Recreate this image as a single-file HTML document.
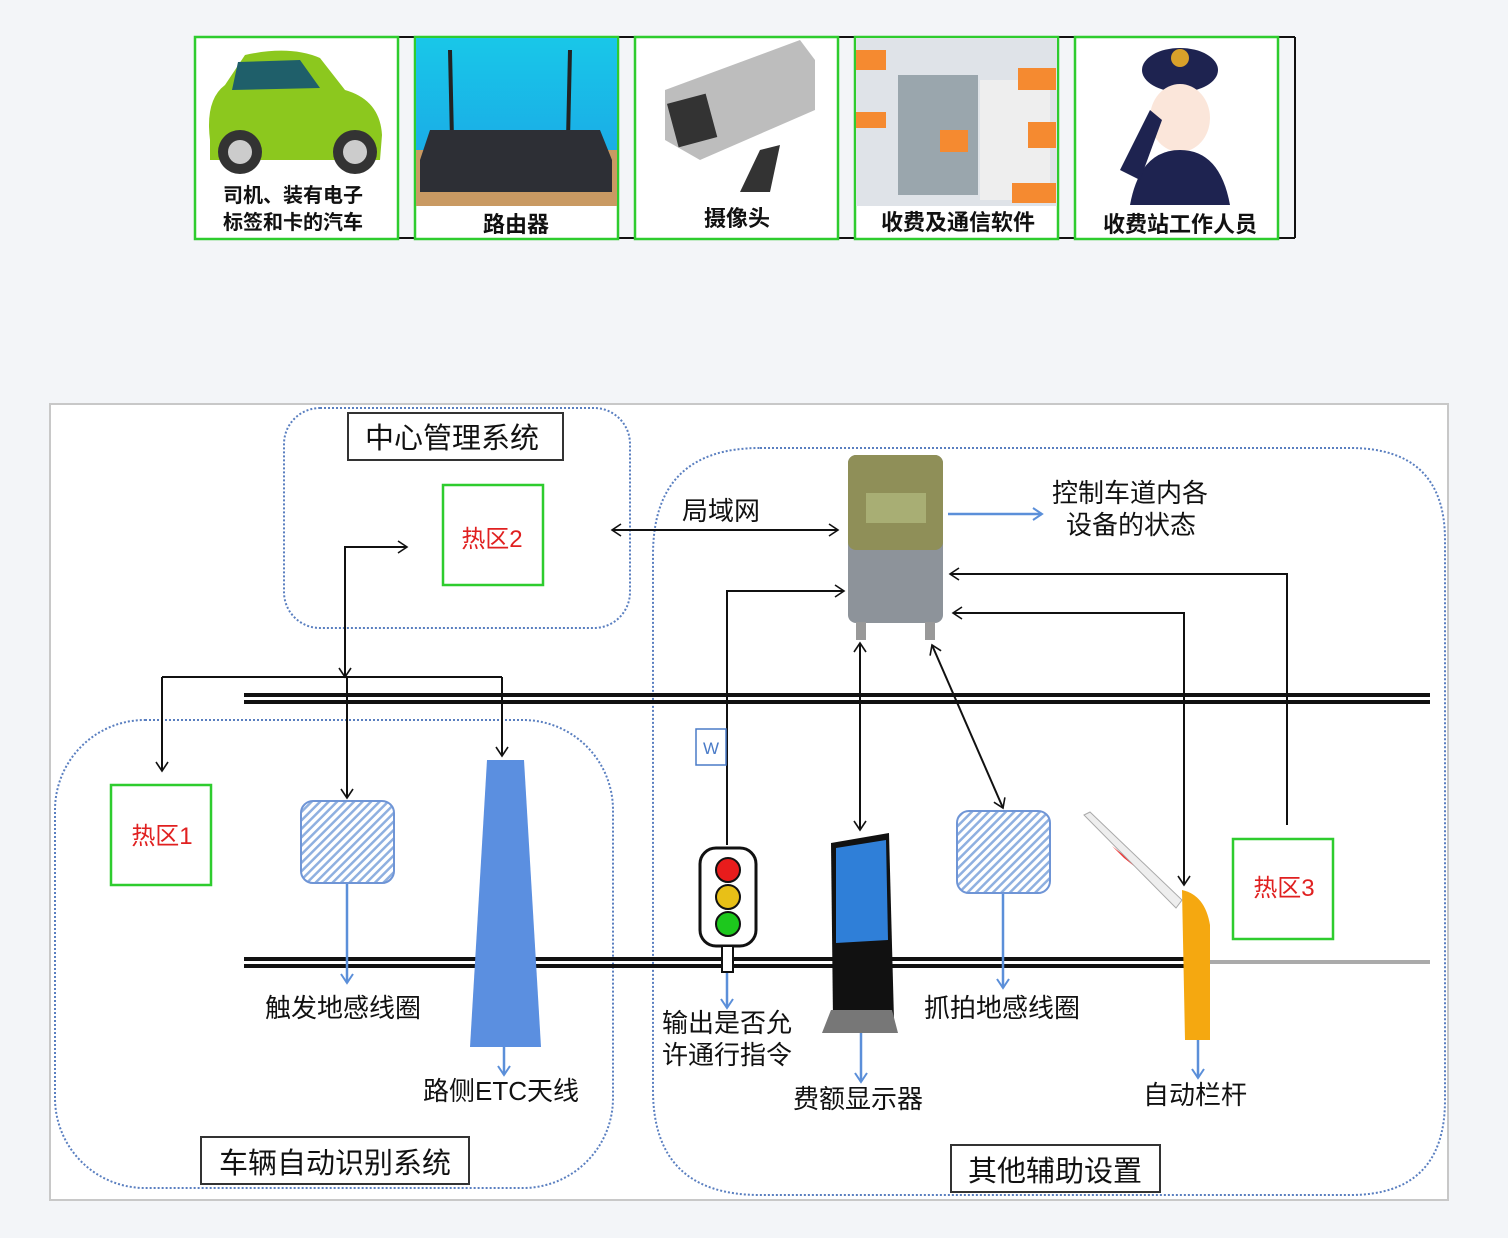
<!DOCTYPE html>
<html><head><meta charset="utf-8"><style>
html,body{margin:0;padding:0;background:#f3f5f8;}
svg{display:block;font-family:"Liberation Sans","Noto Sans CJK SC",sans-serif;}
</style></head><body>
<svg width="1508" height="1238" viewBox="0 0 1508 1238" xmlns="http://www.w3.org/2000/svg">
<defs>
<marker id="a" markerWidth="14" markerHeight="14" refX="11" refY="7" orient="auto-start-reverse" markerUnits="userSpaceOnUse"><path d="M2,1 L11,7 L2,13" fill="none" stroke="#111" stroke-width="1.6"/></marker>
<marker id="b" markerWidth="14" markerHeight="14" refX="11" refY="7" orient="auto" markerUnits="userSpaceOnUse"><path d="M2,1 L11,7 L2,13" fill="none" stroke="#5b8fd9" stroke-width="2"/></marker>
<pattern id="h" width="6" height="6" patternUnits="userSpaceOnUse" patternTransform="rotate(45)"><rect width="6" height="6" fill="#fff"/><rect width="2.5" height="6" fill="#8fb0e0"/></pattern>
<linearGradient id="rb" x1="0" y1="0" x2="0" y2="1"><stop offset="0" stop-color="#19c7e8"/><stop offset="1" stop-color="#1aa0e6"/></linearGradient>
</defs>

<line x1="194" y1="37" x2="1295" y2="37" stroke="#111" stroke-width="2"/>
<line x1="194" y1="238" x2="1295" y2="238" stroke="#111" stroke-width="2"/>
<line x1="1295" y1="37" x2="1295" y2="238" stroke="#111" stroke-width="2"/>
<g stroke="#2ecc2e" stroke-width="2.5" fill="#fff">
<rect x="195" y="37" width="203" height="202"/><rect x="415" y="37" width="203" height="202"/>
<rect x="635" y="37" width="203" height="202"/><rect x="855" y="37" width="203" height="202"/>
<rect x="1075" y="37" width="203" height="202"/>
</g>
<path d="M210,140 Q205,100 225,85 L245,55 Q290,45 320,58 L345,90 Q380,100 382,135 L380,160 L210,160Z" fill="#8cc81e"/>
<path d="M238,62 L300,60 L320,88 L232,90Z" fill="#1f5f6a"/>
<circle cx="240" cy="152" r="22" fill="#333"/><circle cx="240" cy="152" r="12" fill="#ccc"/>
<circle cx="355" cy="152" r="22" fill="#333"/><circle cx="355" cy="152" r="12" fill="#ccc"/>
<g font-weight="bold">
<text x="293" y="202" font-size="20" text-anchor="middle" fill="#111">司机、装有电子</text>
<text x="293" y="229" font-size="20" text-anchor="middle" fill="#111">标签和卡的汽车</text>
</g>
<rect x="416" y="38" width="201" height="168" fill="url(#rb)"/>
<rect x="416" y="150" width="201" height="56" fill="#c99a63"/>
<line x1="450" y1="50" x2="452" y2="140" stroke="#222" stroke-width="4"/>
<line x1="570" y1="50" x2="568" y2="140" stroke="#222" stroke-width="4"/>
<path d="M430,130 L600,130 L612,160 L612,192 L420,192 L420,160Z" fill="#2d2f35"/>
<text x="516" y="232" font-size="22" text-anchor="middle" fill="#111" font-weight="bold">路由器</text>
<path d="M665,90 L800,40 L815,60 L815,110 L700,160 L665,140Z" fill="#bdbdbd"/>
<rect x="672" y="98" width="40" height="45" fill="#333" transform="rotate(-15 692 120)"/>
<path d="M760,150 L780,145 L770,192 L740,192Z" fill="#333"/>
<text x="737" y="226" font-size="22" text-anchor="middle" fill="#111" font-weight="bold">摄像头</text>
<rect x="856" y="38" width="201" height="168" fill="#dfe3e8"/>
<rect x="898" y="75" width="80" height="120" fill="#9aa6ad"/>
<rect x="980" y="80" width="70" height="120" fill="#eee"/>
<g fill="#f58a30"><rect x="856" y="50" width="30" height="20"/><rect x="1018" y="68" width="38" height="22"/><rect x="856" y="112" width="30" height="16"/><rect x="940" y="130" width="28" height="22"/><rect x="1028" y="122" width="28" height="26"/><rect x="1012" y="183" width="44" height="20"/></g>
<text x="958" y="230" font-size="22" text-anchor="middle" fill="#111" font-weight="bold">收费及通信软件</text>
<ellipse cx="1180" cy="70" rx="38" ry="22" fill="#1e2350"/>
<circle cx="1180" cy="58" r="9" fill="#d9a12a"/>
<ellipse cx="1180" cy="118" rx="30" ry="34" fill="#fbe6da"/>
<path d="M1130,205 Q1140,150 1180,150 Q1220,150 1230,205Z" fill="#1e2350"/>
<path d="M1120,170 L1150,110 L1162,120 L1140,180Z" fill="#1e2350"/>
<text x="1180" y="232" font-size="22" text-anchor="middle" fill="#111" font-weight="bold">收费站工作人员</text>

<rect x="50" y="404" width="1398" height="796" fill="#fff" stroke="#c8c8c8" stroke-width="2"/>

<g fill="none" stroke="#5a7fc0" stroke-width="2" stroke-dasharray="2,2">
<rect x="284" y="408" width="346" height="220" rx="36"/>
<rect x="55" y="720" width="558" height="468" rx="90"/>
<path d="M760,448 L1350,448 Q1445,448 1445,540 L1445,1100 Q1445,1195 1350,1195 L760,1195 Q653,1195 653,1090 L653,555 Q653,448 760,448Z"/>
</g>

<g stroke="#111" stroke-width="4">
<line x1="244" y1="695" x2="1430" y2="695"/><line x1="244" y1="702" x2="1430" y2="702"/>
<line x1="244" y1="959" x2="1210" y2="959"/><line x1="244" y1="966" x2="1210" y2="966"/>
</g>
<line x1="1210" y1="962" x2="1430" y2="962" stroke="#aaa" stroke-width="4"/>

<rect x="348" y="413" width="215" height="47" fill="#fff" stroke="#333" stroke-width="2"/>
<text x="452" y="448" font-size="29" text-anchor="middle" fill="#111">中心管理系统</text>
<rect x="201" y="1137" width="268" height="47" fill="#fff" stroke="#333" stroke-width="2"/>
<text x="335" y="1173" font-size="29" text-anchor="middle" fill="#111">车辆自动识别系统</text>
<rect x="951" y="1145" width="209" height="47" fill="#fff" stroke="#333" stroke-width="2"/>
<text x="1055" y="1181" font-size="29" text-anchor="middle" fill="#111">其他辅助设置</text>

<g fill="#fff" stroke="#2ecc2e" stroke-width="2.5">
<rect x="443" y="485" width="100" height="100"/><rect x="111" y="785" width="100" height="100"/><rect x="1233" y="839" width="100" height="100"/>
</g>
<g font-size="24" fill="#e02020" text-anchor="middle">
<text x="492" y="547">热区2</text><text x="162" y="844">热区1</text><text x="1284" y="896">热区3</text>
</g>

<g fill="none" stroke="#111" stroke-width="2">
<path d="M345,677 L345,547 L407,547" marker-end="url(#a)"/>
<path d="M345,548 L345,677" marker-end="url(#a)"/>
<path d="M162,677 L502,677"/>
<path d="M162,677 L162,771" marker-end="url(#a)"/>
<path d="M502,677 L502,756" marker-end="url(#a)"/>
<path d="M347,677 L347,798" marker-end="url(#a)"/>
<path d="M612,530 L838,530" marker-end="url(#a)" marker-start="url(#a)"/>
<path d="M727,845 L727,591 L844,591" marker-end="url(#a)"/>
<path d="M860,643 L860,830" marker-end="url(#a)" marker-start="url(#a)"/>
<path d="M932,645 L1003,808" marker-end="url(#a)" marker-start="url(#a)"/>
<path d="M1287,825 L1287,574 L950,574" marker-end="url(#a)"/>
<path d="M1184,885 L1184,613 L953,613" marker-end="url(#a)"/>
<path d="M1184,613 L1184,885" marker-end="url(#a)"/>
</g>

<g fill="none" stroke="#5b8fd9" stroke-width="2.5">
<path d="M948,514 L1042,514" marker-end="url(#b)"/>
<path d="M347,882 L347,983" marker-end="url(#b)"/>
<path d="M504,1046 L504,1075" marker-end="url(#b)"/>
<path d="M727,972 L727,1008" marker-end="url(#b)"/>
<path d="M861,1033 L861,1082" marker-end="url(#b)"/>
<path d="M1003,892 L1003,988" marker-end="url(#b)"/>
<path d="M1198,1040 L1198,1078" marker-end="url(#b)"/>
</g>

<rect x="301" y="801" width="93" height="82" rx="12" fill="url(#h)" stroke="#6f95d6" stroke-width="2"/>
<rect x="957" y="811" width="93" height="82" rx="12" fill="url(#h)" stroke="#6f95d6" stroke-width="2"/>

<path d="M487,760 L524,760 L541,1047 L470,1047Z" fill="#5b8fe0"/>

<rect x="848" y="455" width="95" height="168" rx="8" fill="#8d939a"/>
<rect x="848" y="455" width="95" height="95" rx="8" fill="#8f8f58"/>
<rect x="866" y="493" width="60" height="30" fill="#a8ae74"/>
<rect x="856" y="622" width="10" height="18" fill="#999"/><rect x="925" y="622" width="10" height="18" fill="#999"/>

<rect x="696" y="729" width="30" height="36" fill="#fff" stroke="#4a7bc7" stroke-width="1.5"/>
<text x="711" y="754" font-size="17" fill="#4a7bc7" text-anchor="middle">W</text>

<rect x="700" y="848" width="56" height="98" rx="16" fill="#fff" stroke="#111" stroke-width="3"/>
<rect x="722" y="946" width="11" height="26" fill="#fff" stroke="#111" stroke-width="2"/>
<circle cx="728" cy="870" r="12" fill="#e81c1c" stroke="#111" stroke-width="2"/>
<circle cx="728" cy="897" r="12" fill="#e8c017" stroke="#111" stroke-width="2"/>
<circle cx="728" cy="924" r="12" fill="#1dc81d" stroke="#111" stroke-width="2"/>

<path d="M831,843 L889,833 L894,1020 L833,1020Z" fill="#111"/>
<path d="M836,848 L886,840 L888,940 L836,943Z" fill="#2f7fd8"/>
<path d="M831,1010 L892,1010 L898,1033 L822,1033Z" fill="#777"/>

<path d="M1084,815 L1090,812 L1182,900 L1176,908Z" fill="#eee" stroke="#aaa"/>
<path d="M1112,846 L1124,858 L1134,866 L1122,854Z" fill="#e33"/>
<path d="M1182,890 Q1205,895 1210,925 L1210,1040 L1185,1040Z" fill="#f5a810"/>

<g font-size="26" fill="#111">
<text x="682" y="520">局域网</text>
<text x="1052" y="502">控制车道内各</text>
<text x="1066" y="534">设备的状态</text>
<text x="265" y="1017">触发地感线圈</text>
<text x="423" y="1100">路侧ETC天线</text>
<text x="662" y="1032">输出是否允</text>
<text x="662" y="1064">许通行指令</text>
<text x="793" y="1108">费额显示器</text>
<text x="924" y="1017">抓拍地感线圈</text>
<text x="1143" y="1104">自动栏杆</text>
</g>
</svg>
</body></html>
